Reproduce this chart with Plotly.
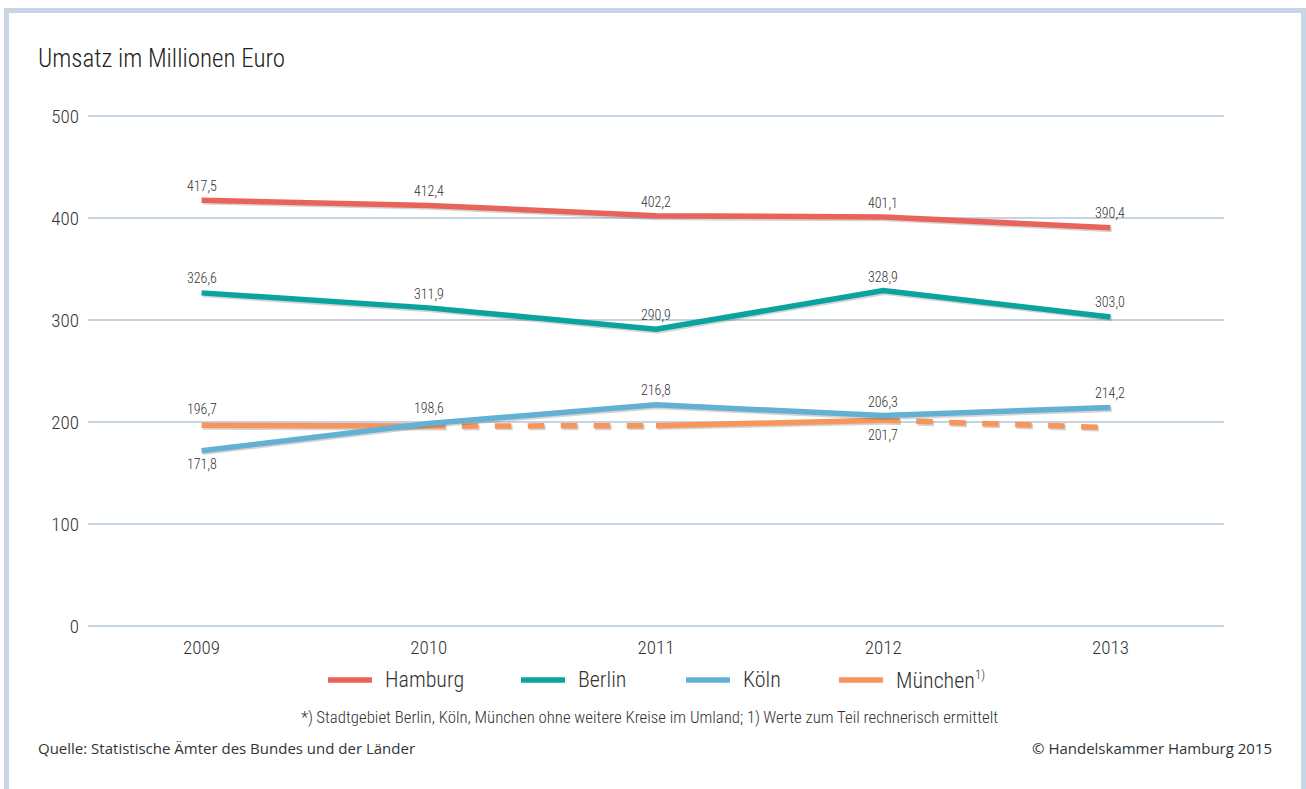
import plotly.graph_objects as go

# --- data -------------------------------------------------------------
years = [2009, 2010, 2011, 2012, 2013]
hamburg = [417.5, 412.4, 402.2, 401.1, 390.4]
berlin = [326.6, 311.9, 290.9, 328.9, 303.0]
koeln = [171.8, 198.6, 216.8, 206.3, 214.2]
muenchen = [196.7, 196.0, 196.4, 201.7, 194.5]
# segment i -> i+1 computed rather than reported (drawn dashed)
muenchen_estimated = [False, True, False, True]
# which München values carry a printed label
muenchen_labeled = [True, False, False, True, False]
y_ticks = [0, 100, 200, 300, 400, 500]

# --- style --------------------------------------------------------------
C_HAM = "#e8645b"
C_BER = "#0aa39e"
C_KOE = "#62b0d4"
C_MUE = "#f7955a"
SHADOW = "rgba(60,60,60,0.22)"
GRID = "#c6d3e2"
TXT = "#333333"
NARROW = "Liberation Sans Narrow, Arial Narrow, Roboto Condensed, Liberation Sans, sans-serif"
PLAIN = "Open Sans, Lato, sans-serif"
LW = 5.5

W, H = 1306, 789
ML, MR = 88, 82
Y0, Y1 = -2, 502
PLOT_H = (Y1 - Y0) * 1.02
MT = 116 - 2 * 1.02
MB = H - MT - PLOT_H


def px_x(p):
    return (p - ML) / (W - ML - MR)


def px_y(p):
    return (H - MB - p) / PLOT_H


def fmt(v):
    return f"{v:.1f}".replace(".", ",")


def shadow_xy(xs, ys):
    # soft drop shadow just below and right of a line
    return [x + 0.006 for x in xs], [y - 1.6 for y in ys]


fig = go.Figure()


def add_line(xs, ys, col, dash="solid"):
    sx, sy = shadow_xy(xs, ys)
    fig.add_trace(go.Scatter(x=sx, y=sy, mode="lines",
                             line=dict(color=SHADOW, width=LW, dash=dash),
                             showlegend=False, hoverinfo="skip"))
    fig.add_trace(go.Scatter(x=xs, y=ys, mode="lines",
                             line=dict(color=col, width=LW, dash=dash),
                             showlegend=False, hoverinfo="skip"))


add_line(years, hamburg, C_HAM)
add_line(years, berlin, C_BER)
for i, est in enumerate(muenchen_estimated):
    add_line(years[i:i + 2], muenchen[i:i + 2], C_MUE, "dash" if est else "solid")
add_line(years, koeln, C_KOE)

# --- value labels ---------------------------------------------------------
annotations = []


def add_labels(vals, shifts, mask=None):
    for j, (yr, v) in enumerate(zip(years, vals)):
        if mask is not None and not mask[j]:
            continue
        annotations.append(dict(x=yr, y=v, xref="x", yref="y", text=fmt(v),
                                showarrow=False, yshift=shifts[j],
                                font=dict(family=NARROW, size=14, color=TXT,
                                          weight=300)))


add_labels(hamburg, [14, 14, 14, 14, 15])
add_labels(berlin, [15, 14, 14, 14, 15])
add_labels(koeln, [-13, 15, 15, 14, 15])
add_labels(muenchen, [16, 0, 0, -15, 0], muenchen_labeled)

# --- title and notes ---------------------------------------------------
annotations += [
    dict(x=px_x(36), y=px_y(58), xref="paper", yref="paper", xanchor="left",
         yanchor="middle", showarrow=False, text="Umsatz im Millionen Euro",
         font=dict(family=NARROW, size=25, color="#222222", weight=300)),
    dict(x=px_x(649), y=px_y(717), xref="paper", yref="paper", xanchor="center",
         yanchor="middle", showarrow=False,
         text="*)\u2009Stadtgebiet Berlin, Köln, München ohne weitere Kreise im Umland; "
              "1)\u2009Werte zum Teil rechnerisch ermittelt",
         font=dict(family=NARROW, size=16.8, color=TXT, weight=300)),
    dict(x=px_x(36), y=px_y(748), xref="paper", yref="paper", xanchor="left",
         yanchor="middle", showarrow=False,
         text="Quelle: Statistische Ämter des Bundes und der Länder",
         font=dict(family=PLAIN, size=15, color=TXT)),
    dict(x=px_x(1274), y=px_y(748), xref="paper", yref="paper", xanchor="right",
         yanchor="middle", showarrow=False,
         text="© Handelskammer Hamburg 2015",
         font=dict(family=PLAIN, size=15, color=TXT)),
]

# --- legend (drawn by hand) ----------------------------------------------
shapes = []
legend_items = [("Hamburg", C_HAM, 328), ("Berlin", C_BER, 521),
                ("Köln", C_KOE, 686),
                ("München<sup><span style='font-size:13px'>1)</span></sup>", C_MUE, 839)]
for label, col, x0 in legend_items:
    shapes.append(dict(type="line", xref="paper", yref="paper",
                       x0=px_x(x0), x1=px_x(x0 + 44), y0=px_y(680), y1=px_y(680),
                       line=dict(color=col, width=LW)))
    annotations.append(dict(x=px_x(x0 + 55), y=px_y(680), xref="paper", yref="paper",
                            xanchor="left", yanchor="middle", showarrow=False,
                            text=label,
                            font=dict(family=NARROW, size=22, color=TXT, weight=300)))

# outer frame
shapes.append(dict(type="rect", xref="paper", yref="paper",
                   x0=px_x(6.5), x1=px_x(1303.5), y0=px_y(820), y1=px_y(10.5),
                   line=dict(color="#c8d5e4", width=5), layer="below"))

fig.update_layout(
    width=W, height=H,
    margin=dict(l=ML, r=MR, t=MT, b=MB, pad=0),
    paper_bgcolor="white", plot_bgcolor="white",
    showlegend=False,
    annotations=annotations,
    shapes=shapes,
    xaxis=dict(range=[2008.5, 2013.5], tickvals=years,
               ticktext=[str(y) for y in years], showgrid=False, zeroline=False,
               showline=False, ticks="", ticklabelstandoff=6,
               tickfont=dict(family=NARROW, size=19, color=TXT, weight=300),
               fixedrange=True),
    yaxis=dict(range=[Y0, Y1], tickvals=y_ticks, showgrid=True, gridcolor=GRID,
               gridwidth=1.5, zeroline=True, zerolinecolor=GRID, zerolinewidth=1.5,
               showline=False, ticks="", ticklabelstandoff=8,
               tickfont=dict(family=NARROW, size=19, color=TXT, weight=300),
               fixedrange=True),
)

fig.write_html("out.html")
